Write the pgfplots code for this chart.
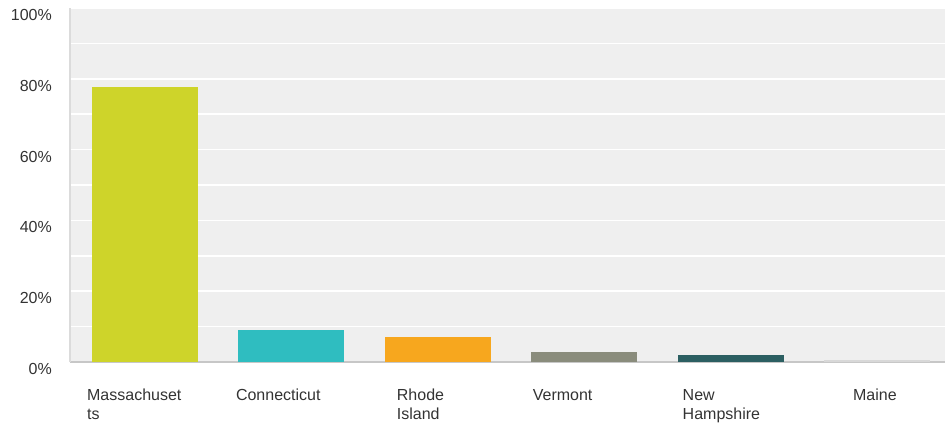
\documentclass[border=0pt]{standalone}
\usepackage{pgfplots}
\pgfplotsset{compat=1.18}
\usepackage{fontspec}
\setmainfont{Liberation Sans}
\definecolor{bgc}{HTML}{EFEFEF}
\definecolor{txt}{HTML}{333333}
\definecolor{cMA}{HTML}{CED42A}
\definecolor{cCT}{HTML}{2FBDC0}
\definecolor{cRI}{HTML}{F7A71E}
\definecolor{cVT}{HTML}{8A8C7C}
\definecolor{cNH}{HTML}{2C5F62}
\definecolor{cME}{HTML}{D8D8D8}
\begin{document}
\begin{tikzpicture}
\path[use as bounding box] (0,0) rectangle (945pt,424pt);
\begin{axis}[
  at={(70pt,62pt)}, anchor=south west,
  scale only axis, width=875pt, height=354pt,
  xmin=-0.512, xmax=5.465, ymin=0, ymax=100,
  axis background/.style={fill=bgc},
  axis x line=bottom, axis y line=left,
  x axis line style={-, draw=black!22, line width=1.2pt},
  y axis line style={-, draw=black!14, line width=2pt},
  xtick=\empty,
  ytick={0,20,40,60,80,100},
  yticklabels={0\%,20\%,40\%,60\%,80\%,100\%},
  minor ytick={10,30,50,70,90},
  major tick length=0pt, minor tick length=0pt,
  ymajorgrids, yminorgrids,
  major grid style={white, line width=1.6pt},
  minor grid style={white, line width=1.6pt},
  yticklabel style={font=\fontsize{16}{19}\selectfont, text=txt, anchor=east, inner sep=0pt, xshift=-18pt, yshift=-7pt},
  ybar, bar width=106pt, bar shift=0pt,
  clip=false,
]
\addplot[ybar, bar shift=0pt, draw=none, fill=cMA] coordinates {(0,77.8)};
\addplot[ybar, bar shift=0pt, draw=none, fill=cCT] coordinates {(1,9.0)};
\addplot[ybar, bar shift=0pt, draw=none, fill=cRI] coordinates {(2,7.1)};
\addplot[ybar, bar shift=0pt, draw=none, fill=cVT] coordinates {(3,2.9)};
\addplot[ybar, bar shift=0pt, draw=none, fill=cNH] coordinates {(4,2.0)};
\addplot[ybar, bar shift=0pt, draw=none, fill=cME] coordinates {(5,0.7)};
\begin{scope}[every node/.style={anchor=north west, align=left, inner sep=0pt, text=txt, font=\fontsize{16}{19}\selectfont}]
\node at (axis cs:0,0) [xshift=-58pt, yshift=-27pt] {Massachuset\\ts};
\node at (axis cs:1,0) [xshift=-55.5pt, yshift=-27pt] {Connecticut};
\node at (axis cs:2,0) [xshift=-41pt, yshift=-27pt] {Rhode\\Island};
\node at (axis cs:3,0) [xshift=-51.5pt, yshift=-27pt] {Vermont};
\node at (axis cs:4,0) [xshift=-48pt, yshift=-27pt] {New\\Hampshire};
\node at (axis cs:5,0) [xshift=-24pt, yshift=-27pt] {Maine};
\end{scope}
\end{axis}
\end{tikzpicture}
\end{document}
